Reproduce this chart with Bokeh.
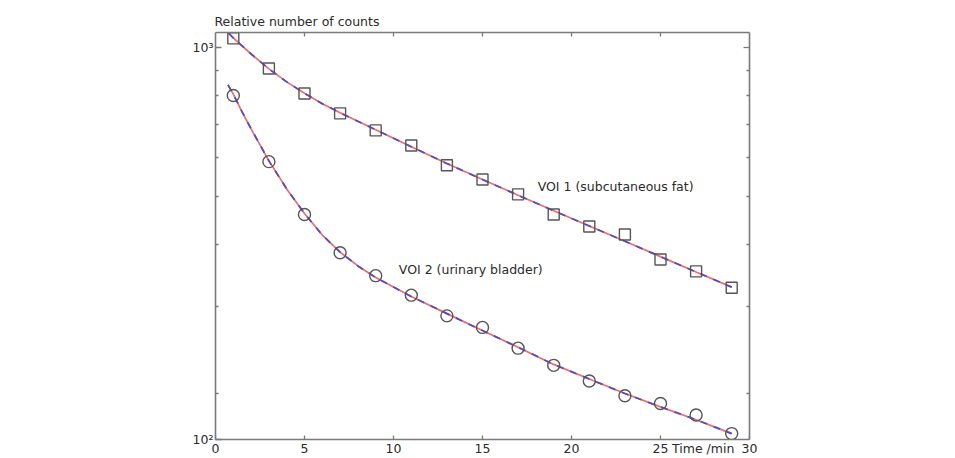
from bokeh.plotting import figure
from bokeh.models import (Range1d, FixedTicker, LinearAxis, LogAxis, Label,
                          CustomJSTickFormatter)
from bokeh.embed import file_html
from bokeh.resources import INLINE

# ---- data ----
t = [1, 3, 5, 7, 9, 11, 13, 15, 17, 19, 21, 23, 25, 27, 29]
voi1 = [1043, 907, 807, 736, 680, 634, 578, 541, 505, 460, 435, 419, 373, 353, 327]
voi2 = [800, 588, 460, 385, 346, 316, 287, 272, 247, 228, 212, 198, 191, 181, 166]

fit1_t = [0.75, 1, 2, 3, 4, 5, 6, 7, 9, 11, 13, 15, 17, 19, 21, 23, 25, 27, 29]
fit1 = [1068, 1045, 970, 905, 852, 808, 770, 738, 682, 630, 583, 541, 503, 468,
        436, 406, 378, 352, 328]
fit2_t = [0.7, 1, 1.5, 2, 3, 4, 5, 6, 7, 8, 9, 11, 13, 15, 17, 19, 21, 23, 25, 27, 29]
fit2 = [840, 805, 740, 685, 590, 518, 462, 418, 386, 362, 343, 314, 290, 268,
        248, 229, 214, 200, 188, 177, 166]

x_ticks = [0, 5, 10, 15, 20, 25, 30]
x_label_pos = 27.4          # where "Time /min" sits on the time axis
y_major = [161.5, 1000]
y_minor = [200, 300, 400, 500, 600, 700, 800, 900]

FONT = "DejaVu Sans"
TXT = "#2b2b2b"
AX = "#7a7a7a"
FS = "12.5px"

p = figure(width=955, height=458, output_backend="svg", toolbar_location=None,
           y_axis_type="log", x_range=Range1d(0, 30), y_range=Range1d(161.5, 1072),
           min_border_left=215, min_border_right=206, min_border_top=32,
           min_border_bottom=19)
p.grid.visible = False
p.outline_line_color = None
p.background_fill_color = "white"
p.border_fill_color = "white"

p.title.text = "Relative number of counts"
p.title.align = "left"
p.title.text_font = FONT
p.title.text_font_size = FS
p.title.text_font_style = "normal"
p.title.text_color = TXT
p.title.offset = -1
p.title.standoff = 7

def style(ax, labels=True):
    ax.axis_line_color = AX
    ax.axis_line_width = 1.6
    ax.major_tick_line_color = AX
    ax.minor_tick_line_color = AX
    ax.major_tick_line_width = 1.3
    ax.minor_tick_line_width = 1.3
    ax.major_tick_in = 6
    ax.major_tick_out = 0
    ax.minor_tick_in = 3
    ax.minor_tick_out = 0
    ax.major_label_text_font = FONT
    ax.major_label_text_font_size = FS
    ax.major_label_text_color = TXT
    ax.major_label_standoff = 3
    if not labels:
        ax.major_label_text_alpha = 0
        ax.major_label_text_font_size = "1px"

# bottom axis: labels as major ticks (no marks), tick marks as minor ticks
xb = p.xaxis[0]
xb.ticker = FixedTicker(ticks=x_ticks[:-1] + [x_label_pos, 30], minor_ticks=x_ticks)
xb.formatter = CustomJSTickFormatter(
    code='return (tick > 26 && tick < 29) ? "Time /min" : tick.toFixed(0);')
style(xb)
xb.major_tick_in = 0
xb.minor_tick_in = 4
xb.major_label_standoff = 1

# left axis
yl = p.yaxis[0]
yl.ticker = FixedTicker(ticks=y_major, minor_ticks=y_minor)
yl.formatter = CustomJSTickFormatter(code='return tick > 500 ? "10\u00b3" : "10\u00b2";')
style(yl)
yl.major_label_standoff = 2

# top axis
xt = LinearAxis(ticker=FixedTicker(ticks=x_ticks[1:-1]))
style(xt, labels=False)
xt.major_tick_in = 4
p.add_layout(xt, "above")

# right axis
yr = LogAxis(ticker=FixedTicker(ticks=[1000], minor_ticks=y_minor))
style(yr, labels=False)
p.add_layout(yr, "right")

# fitted curves: red solid with blue dashes on top
p.line(fit1_t, fit1, line_color="#f06a6a", line_width=1.7)
p.line(fit1_t, fit1, line_color="#4b4bd2", line_width=1.7, line_dash="7 7")
p.line(fit2_t, fit2, line_color="#f06a6a", line_width=1.7)
p.line(fit2_t, fit2, line_color="#4b4bd2", line_width=1.7, line_dash="7 7")

# measured points
p.scatter(t, voi1, marker="square", size=11, fill_color=None,
          line_color="#555555", line_width=1.4)
p.scatter(t, voi2, marker="circle", size=12, fill_color=None,
          line_color="#555555", line_width=1.4)

def lab(x, y, text):
    p.add_layout(Label(x=x, y=y, text=text, text_font=FONT, text_font_size=FS,
                       text_color=TXT, text_align="left", text_baseline="middle"))

lab(18.1, 524, "VOI 1 (subcutaneous fat)")
lab(10.3, 356, "VOI 2 (urinary bladder)")

open("out.html", "w").write(file_html(p, INLINE))
